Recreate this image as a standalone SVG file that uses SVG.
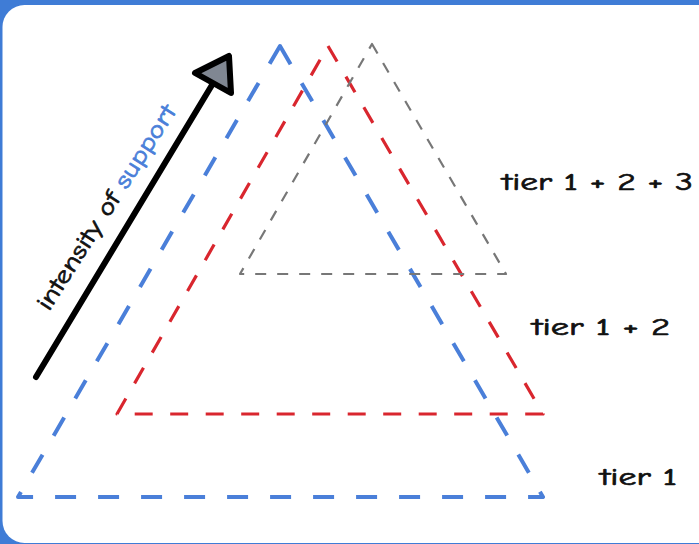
<svg xmlns="http://www.w3.org/2000/svg" width="699" height="544" viewBox="0 0 699 544">
<style>
.lbl{font-family:"Comic Neue","DejaVu Sans","Liberation Sans",sans-serif;font-size:24px;fill:#111;stroke:#111;stroke-width:0.7}
.tri{fill:none;stroke-linejoin:round}
</style>
<rect x="0" y="0" width="699" height="544" fill="#3f7cd6"/>
<rect x="2.5" y="5" width="740" height="538" rx="22" fill="#ffffff"/>
<g id="tier1">
<path class="tri" d="M280,46 L543,497 L18,497 Z" stroke="#4a7fd9" stroke-width="4" stroke-dasharray="21 22"/>
</g>
<g id="tier2">
<path class="tri" d="M328,46 L543,414 L117,414 Z" stroke="#d9262e" stroke-width="3.2" stroke-dasharray="18 17.5"/>
</g>
<g id="tier3">
<path class="tri" d="M372,44 L506,274 L240,274 Z" stroke="#777777" stroke-width="2.2" stroke-dasharray="11 11"/>
</g>
<g id="connectors">
<line x1="36" y1="377" x2="212" y2="85" stroke="#000" stroke-width="6" stroke-linecap="round"/>
<polygon points="195,73 229,56 231,93" fill="#808792" stroke="#000" stroke-width="6" stroke-linejoin="round"/>
</g>
<g id="axis-label">
<text class="lbl" font-size="21" transform="translate(49,312) rotate(-57.5)" textLength="238" lengthAdjust="spacingAndGlyphs">intensity of <tspan fill="#4a7fd9" stroke="#4a7fd9">support</tspan></text>
</g>
<g id="label-tier3"><text class="lbl" x="502" y="190" textLength="191" lengthAdjust="spacingAndGlyphs">tier 1 + 2 + 3</text></g>
<g id="label-tier2"><text class="lbl" x="532" y="335" textLength="138" lengthAdjust="spacingAndGlyphs">tier 1 + 2</text></g>
<g id="label-tier1"><text class="lbl" x="600" y="485" textLength="77" lengthAdjust="spacingAndGlyphs">tier 1</text></g>
</svg>
